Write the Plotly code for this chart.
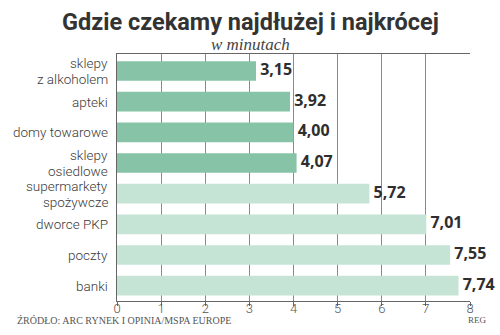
import plotly.graph_objects as go

categories = ["sklepy<br>z alkoholem", "apteki", "domy towarowe", "sklepy<br>osiedlowe",
              "supermarkety<br>spożywcze", "dworce PKP", "poczty", "banki"]
values = [3.15, 3.92, 4.00, 4.07, 5.72, 7.01, 7.55, 7.74]
labels = ["3,15", "3,92", "4,00", "4,07", "5,72", "7,01", "7,55", "7,74"]
colors = ["#86c3a7"] * 4 + ["#c6e4d6"] * 4

title = "Gdzie czekamy najdłużej i najkrócej"
subtitle = "w minutach"
source = "ŹRÓDŁO: ARC RYNEK I OPINIA/MSPA EUROPE"

L, R, T, B = 117, 30, 54, 34
W, H = 500, 335
pw, ph = W - L - R, H - T - B

def px(x):
    return (x - L) / pw

def py(y):
    return (H - B - y) / ph

fig = go.Figure()
fig.add_trace(go.Bar(
    x=values, y=categories, orientation="h",
    marker=dict(color=colors, line=dict(width=0)),
    hoverinfo="skip",
))
fig.add_trace(go.Scatter(
    x=values, y=categories, mode="text", text=[" " + t for t in labels],
    textposition="middle right",
    textfont=dict(family="Open Sans", size=16, color="#2e2e2e", weight="bold"),
    cliponaxis=False, hoverinfo="skip",
))

annotations = [
    dict(text=title, x=px(250), y=py(22), xref="paper", yref="paper", showarrow=False,
         xanchor="center", yanchor="middle",
         font=dict(family="Roboto", size=23.5, color="#333", weight="bold")),
    dict(text=subtitle, x=px(250), y=py(44), xref="paper", yref="paper", showarrow=False,
         xanchor="center", yanchor="middle",
         font=dict(family="Liberation Serif", size=17, color="#444", style="italic")),
    dict(text=source, x=px(15), y=py(320), xref="paper", yref="paper", showarrow=False,
         xanchor="left", yanchor="middle",
         font=dict(family="Liberation Serif", size=10, color="#555")),
    dict(text="REG", x=px(477), y=py(320), xref="paper", yref="paper", showarrow=False,
         xanchor="center", yanchor="middle",
         font=dict(family="Liberation Serif", size=9, color="#555")),
]

# category labels with tight line spacing
for cat in categories:
    lines = cat.split("<br>")
    n = len(lines)
    for i, line in enumerate(lines):
        shift = ((n - 1) / 2 - i) * 16
        annotations.append(dict(
            text=line, x=px(109), y=cat, xref="paper", yref="y", yshift=shift,
            showarrow=False, xanchor="right", yanchor="middle", borderpad=0,
            font=dict(family="Roboto", size=13.5, color="#3a3a3a", weight=300)))

fig.update_layout(
    width=W, height=H,
    margin=dict(l=L, r=R, t=T, b=B),
    paper_bgcolor="white", plot_bgcolor="white",
    showlegend=False, bargap=0.36,
    xaxis=dict(range=[0, 8], dtick=1, showgrid=True, gridcolor="#8a8a8a", gridwidth=1,
               showline=True, mirror=True, linecolor="#666", linewidth=1,
               ticks="outside", ticklen=4, tickcolor="#666", zeroline=False,
               ticklabelstandoff=-9,
               tickfont=dict(family="Roboto", size=13, color="#555", weight=300)),
    yaxis=dict(autorange="reversed", showline=True, linecolor="#666", linewidth=1,
               showgrid=False, showticklabels=False, ticks=""),
    annotations=annotations,
)

fig.write_html("out.html")
